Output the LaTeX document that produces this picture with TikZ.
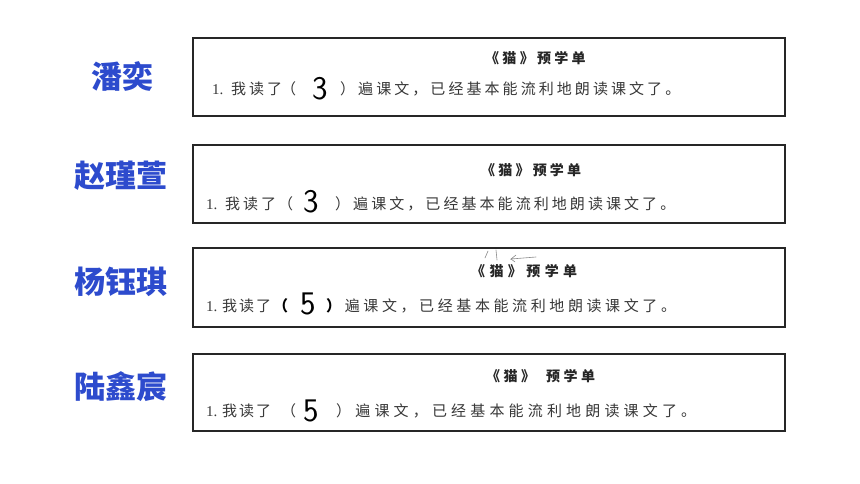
\documentclass[tikz,border=0pt]{standalone}
\usepackage{fontspec}
\newfontfamily\cjk{Noto Sans CJK SC}
\newfontfamily\tms{Liberation Serif}
\definecolor{namecol}{RGB}{45,75,205}
\def\rsSp#1#2{\def\rsW{#1}\rsLoop#2\relax}
\def\rsLoop#1{\ifx\relax#1\else\makebox[\rsW][l]{#1}\expandafter\rsLoop\fi}
\tikzset{
 sheet/.style={draw=black!85, line width=1.8pt, inner sep=0pt, anchor=north west, minimum width=592pt},
 body/.style={inner sep=0pt, anchor=base west, text=black!78, font=\cjk\fontsize{15}{15}\selectfont},
 bodyb/.style={inner sep=0pt, anchor=base west, text=black, font=\cjk\bfseries\fontsize{15}{15}\selectfont},
 numtx/.style={inner sep=0pt, anchor=base west, text=black!78, font=\tms\fontsize{15}{15}\selectfont},
 ttl/.style={inner sep=0pt, anchor=base west, text=black!85, font=\cjk\bfseries\fontsize{14}{14}\selectfont},
 hand/.style={inner sep=0pt, text=black, font=\sffamily\fontsize{33}{33}\selectfont},
 who/.style={inner sep=0pt, text=namecol, font=\cjk\bfseries\fontsize{31}{32}\selectfont},
 scrib/.style={draw=black!45, line width=0.6pt, line cap=round},
}
\begin{document}
\begin{tikzpicture}[x=1pt,y=-1pt]
\useasboundingbox[fill=white] (0,0) rectangle (860,484);
% sheets
\node[sheet, minimum height=78pt] (s1) at (192,37) {};
\node[sheet, minimum height=78pt] (s2) at (192,144) {};
\node[sheet, minimum height=79pt] (s3) at (192,247) {};
\node[sheet, minimum height=77pt] (s4) at (192,353) {};
% names
\node[who] (n1) at (122,77) {潘奕};
\node[who] (n2) at (121,176) {赵瑾萱};
\node[who] (n3) at (121,282) {杨钰琪};
\node[who] (n4) at (121,387) {陆鑫宸};
% titles
\node[ttl] (t1) at (485,64) {\rsSp{17.3pt}{《猫》预学单}};
\node[ttl] (t2) at (481,176) {\rsSp{17.2pt}{《猫》预学单}};
\node[ttl] (t3) at (471,276) {\rsSp{18.4pt}{《猫》预学单}};
\node[ttl] (t4a) at (486,381) {\rsSp{17.5pt}{《猫》}};
\node[ttl] (t4b) at (546,381) {\rsSp{17.5pt}{预学单}};
% line 1
\node[numtx] (a1) at (212,95) {1.};
\node[body] (b1) at (231,95) {\rsSp{18pt}{我读了}};
\node[body] (c1) at (281,95) {（};
\node[hand] (d1) at (320.5,88.5) {3};
\node[body] (e1) at (340,95) {\rsSp{18.06pt}{）遍课文，已经基本能流利地朗读课文了。}};
% line 2
\node[numtx] (a2) at (206,209) {1.};
\node[body] (b2) at (225,209) {\rsSp{18pt}{我读了}};
\node[body] (c2) at (278,209) {（};
\node[hand] (d2) at (311.5,202) {3};
\node[body] (e2) at (335,209) {\rsSp{18.06pt}{）遍课文，已经基本能流利地朗读课文了。}};
% line 3
\node[numtx] (a3) at (206,311) {1.};
\node[body] (b3) at (222,311) {\rsSp{17pt}{我读了}};
\node[bodyb] (c3) at (273,311) {（};
\node[hand] (d3) at (308.5,303.5) {5};
\node[bodyb] (e3a) at (326,311) {）};
\node[body] (e3) at (344.6,311) {\rsSp{18.6pt}{遍课文，已经基本能流利地朗读课文了。}};
% line 4
\node[numtx] (a4) at (206,416) {1.};
\node[body] (b4) at (222,416) {\rsSp{17pt}{我读了}};
\node[body] (c4) at (281,416) {（};
\node[hand] (d4) at (311.5,411) {5};
\node[body] (e4) at (336,416) {\rsSp{19.17pt}{）遍课文，已经基本能流利地朗读课文了。}};
% scribble above title 3
\draw[scrib] (485,258) -- (488,251);
\draw[scrib] (496,250) -- (497,260);
\draw[scrib] (536,257) -- (511,259) -- (516,255);
\draw[scrib] (511,259) -- (515,262);
\end{tikzpicture}
\end{document}
